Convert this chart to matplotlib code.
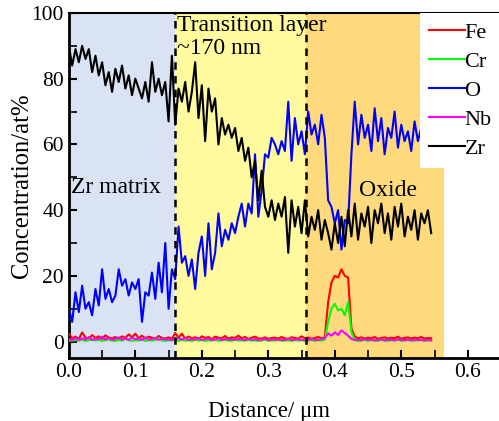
import numpy as np
import matplotlib
matplotlib.use("Agg")
import matplotlib.pyplot as plt
from matplotlib.ticker import MultipleLocator

plt.rcParams['font.family'] = ['Liberation Serif', 'DejaVu Serif']
plt.rcParams['mathtext.fontset'] = 'stix'

# sampling grid of the line scan (um)
step = 0.005
distance = np.arange(110) * step

zr = [90, 84, 89, 85, 90, 86, 89, 82, 87, 81,
      85, 78, 82, 76, 83, 79, 84, 77, 81, 75,
      80, 77, 74, 79, 73, 85, 76, 80, 75, 79,
      67, 87, 66, 77, 73, 79, 70, 76, 85, 68,
      78, 61, 77, 70, 74, 60, 68, 63, 66, 62,
      65, 58, 62, 55, 59, 50, 55, 43, 52, 41,
      38, 43, 37, 42, 38, 44, 27, 43, 35, 41,
      33, 43, 32, 38, 34, 40, 31, 37, 33, 28,
      36, 30, 38, 29, 40, 32, 42, 31, 39, 35,
      41, 30, 40, 36, 42, 33, 39, 31, 41, 35,
      42, 32, 38, 34, 40, 31, 39, 36, 40, 33]

o = [10, 6, 15, 9, 17, 10, 12, 8, 16, 11,
     22, 13, 16, 12, 14, 22, 17, 19, 14, 18,
     16, 19, 6, 15, 14, 21, 13, 24, 15, 30,
     10, 22, 19, 35, 24, 26, 20, 25, 16, 27,
     32, 20, 36, 22, 27, 39, 29, 34, 31, 36,
     33, 38, 42, 35, 42, 39, 57, 38, 46, 57,
     56, 62, 60, 57, 61, 58, 73, 55, 68, 60,
     64, 57, 70, 63, 66, 60, 69, 62, 43, 41,
     36, 40, 28, 37, 36, 57, 73, 60, 69, 62,
     66, 58, 71, 61, 68, 57, 65, 62, 70, 59,
     66, 61, 64, 58, 67, 61, 65, 60, 64, 62]

fe = [2.5, 1.0, 1.5, 0.8, 2.8, 1.2, 0.9, 2.0, 1.1, 1.6,
      0.7, 1.9, 1.2, 1.0, 1.4, 0.8, 1.6, 1.1, 2.2, 1.3,
      2.4, 1.0, 1.8, 0.9, 1.5, 1.2, 0.8, 1.7, 1.1, 0.9,
      1.3, 0.8, 2.6, 1.2, 2.4, 0.9, 1.5, 1.0, 1.3, 0.8,
      1.6, 1.1, 1.4, 0.7, 1.5, 1.2, 1.0, 1.7, 0.9, 1.3,
      1.1, 1.8, 1.0, 1.4, 0.8, 1.2, 1.5, 1.0, 0.9, 1.3,
      0.8, 1.1, 1.2, 0.9, 1.4, 1.0, 0.8, 1.3, 1.1, 0.9,
      1.6, 1.0, 1.2, 0.8, 1.1, 1.4, 1.0, 1.3, 12.0, 18.0,
      20.0, 19.5, 22.0, 20.0, 19.5, 4.0, 1.5, 1.0, 1.3, 0.9,
      1.2, 1.0, 1.4, 0.8, 1.1, 1.3, 0.9, 1.2, 1.0, 1.5,
      0.8, 1.1, 1.3, 0.9, 1.2, 1.0, 1.4, 0.9, 1.1, 1.0]

cr = [0.3, 0.2, 0.5, 0.3, 0.6, 0.2, 0.4, 0.7, 0.3, 0.5,
      0.2, 0.4, 0.6, 0.3, 0.2, 0.5, 0.3, 0.8, 0.4, 0.2,
      0.5, 0.3, 0.6, 0.2, 0.4, 0.3, 0.5, 1.0, 0.3, 0.2,
      0.4, 0.3, 0.6, 0.2, 0.5, 0.3, 0.4, 0.2, 0.6, 0.3,
      0.5, 0.2, 0.4, 0.3, 0.7, 0.2, 0.4, 0.5, 0.3, 0.2,
      0.6, 0.3, 0.4, 0.2, 0.5, 0.3, 0.4, 0.2, 0.3, 0.6,
      0.2, 0.4, 0.3, 0.5, 0.2, 0.3, 0.4, 0.2, 0.5, 0.3,
      0.4, 0.2, 0.3, 0.5, 0.2, 0.4, 0.3, 0.6, 6.0, 10.0,
      11.5, 9.5, 10.0, 8.0, 12.0, 3.0, 0.4, 0.2, 0.3, 0.5,
      0.2, 0.4, 0.3, 0.2, 0.5, 0.3, 0.2, 0.4, 0.3, 0.6,
      0.2, 0.3, 0.5, 0.2, 0.4, 0.3, 0.5, 0.2, 0.3, 0.4]

nb = [0.8, 0.4, 1.2, 0.5, 1.0, 0.6, 1.4, 0.5, 0.9, 0.7,
      1.5, 0.6, 1.1, 0.5, 0.8, 1.3, 0.6, 1.0, 0.5, 1.2,
      0.7, 0.9, 0.5, 1.3, 0.6, 0.8, 1.1, 0.5, 0.9, 0.6,
      0.7, 0.5, 0.8, 1.0, 0.6, 1.2, 0.5, 0.8, 0.6, 1.1,
      0.5, 0.7, 0.9, 0.5, 0.6, 1.0, 0.5, 0.8, 0.6, 0.7,
      0.5, 0.9, 0.6, 0.5, 0.8, 0.6, 0.7, 0.5, 0.6, 0.8,
      0.5, 0.6, 0.7, 0.5, 0.6, 0.5, 0.8, 0.5, 0.6, 0.7,
      0.5, 0.6, 0.5, 0.7, 0.6, 0.5, 0.8, 1.0, 2.5, 1.8,
      2.8, 2.0, 3.4, 2.6, 1.8, 0.8, 0.5, 0.6, 0.4, 0.7,
      0.5, 0.6, 0.4, 0.5, 0.7, 0.4, 0.6, 0.5, 0.4, 0.7,
      0.5, 0.4, 0.6, 0.5, 0.4, 0.6, 0.5, 0.4, 0.5, 0.4]

series = [('Fe', fe, '#ff0000'), ('Cr', cr, '#00ff00'), ('O', o, '#0000ff'),
          ('Nb', nb, '#ff00ff'), ('Zr', zr, '#000000')]

# layer boundaries (um)
b_matrix = 0.16
b_oxide = 0.357
b_end = 0.565

fig = plt.figure(figsize=(4.99, 4.21), dpi=100)
ax = fig.add_axes([0.138, 0.1496, 0.866, 0.8196])

ax.axvspan(0, b_matrix, color='#dae3f3', lw=0, zorder=0)
ax.axvspan(b_matrix, b_oxide, color='#fffa9e', lw=0, zorder=0)
ax.axvspan(b_oxide, b_end, color='#ffda7d', lw=0, zorder=0)

for name, vals, c in series:
    ax.plot(distance, vals, color=c, lw=1.5, label=name, zorder=3)

for b in (b_matrix, b_oxide):
    ax.axvline(b, color='black', ls=(0, (3, 2.5)), lw=1.8, zorder=4)

ax.set_xlim(0, 0.65)
ax.set_ylim(-5, 100)
ax.xaxis.set_major_locator(MultipleLocator(0.1))
ax.xaxis.set_minor_locator(MultipleLocator(0.05))
ax.yaxis.set_major_locator(MultipleLocator(20))
ax.yaxis.set_minor_locator(MultipleLocator(10))
ax.xaxis.set_major_formatter(matplotlib.ticker.FormatStrFormatter('%.1f'))
ax.tick_params(which='both', direction='in', labelsize=15.5, top=False, right=False)
ax.tick_params(which='major', length=6, width=1.5)
ax.tick_params(which='minor', length=6, width=1.2)
for s in ('left', 'bottom'):
    ax.spines[s].set_linewidth(2)
ax.spines['top'].set_linewidth(1.5)

ax.set_xlabel('Distance/ μm', fontsize=16.5)
ax.xaxis.set_label_coords(0.463, -0.125)
ax.set_ylabel('Concentration/at%', fontsize=17.7, labelpad=-1)

ax.text(0.163, 99.5, 'Transition layer\n~170 nm', fontsize=17, va='top', ha='left',
        linespacing=1.15, zorder=5)
ax.text(0.003, 47, 'Zr matrix', fontsize=17, va='center', ha='left', zorder=5)
ax.text(0.437, 46, 'Oxide', fontsize=17, va='center', ha='left', zorder=5)

leg = ax.legend(loc='upper left', bbox_to_anchor=(0.842, 0.968), bbox_transform=fig.transFigure,
                fontsize=16, frameon=True, fancybox=False, edgecolor='none', facecolor='white',
                framealpha=1, handlelength=1.6, handletextpad=0.0, labelspacing=0.38,
                borderpad=0.4, borderaxespad=0)
leg.set_zorder(6)

fig.savefig('out.png', dpi=100)
